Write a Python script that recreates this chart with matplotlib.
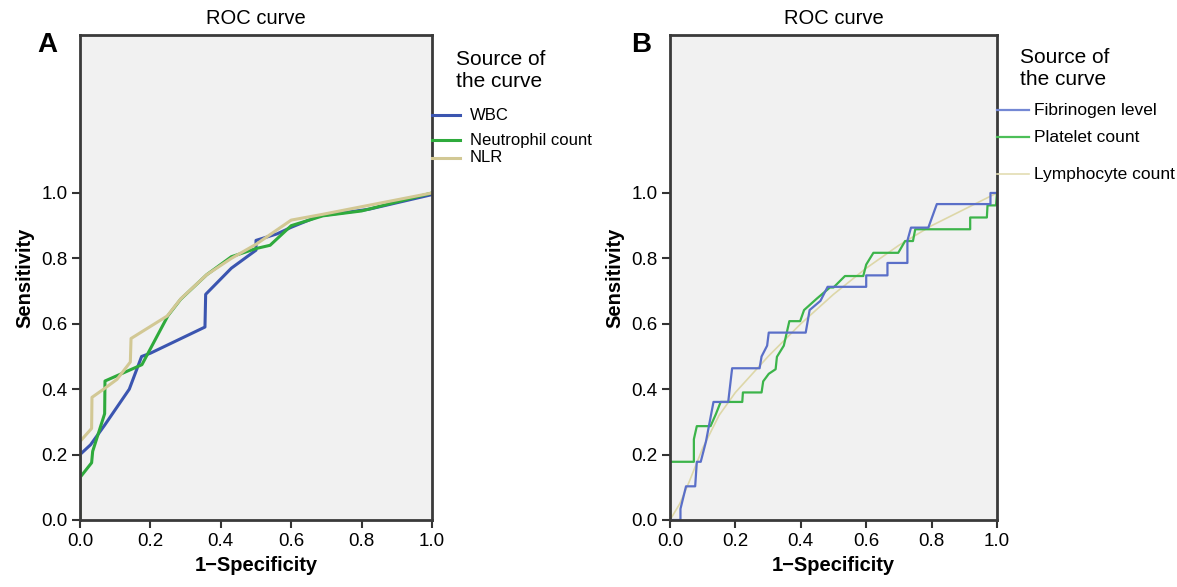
import matplotlib
matplotlib.use("Agg")
import matplotlib.pyplot as plt
from matplotlib.lines import Line2D

plt.rcParams['font.family'] = ['Liberation Sans', 'DejaVu Sans']

# Panel A data
wbc_x = [0, 0, 0.03, 0.07, 0.14, 0.175, 0.20, 0.355, 0.357, 0.43, 0.50, 0.50, 0.56, 0.60, 0.68, 0.82, 1.0]
wbc_y = [0, 0.20, 0.23, 0.29, 0.40, 0.50, 0.51, 0.59, 0.69, 0.77, 0.825, 0.855, 0.875, 0.895, 0.93, 0.95, 0.995]
neu_x = [0, 0, 0.033, 0.036, 0.07, 0.071, 0.176, 0.25, 0.286, 0.36, 0.43, 0.50, 0.54, 0.60, 0.69, 0.80, 1.0]
neu_y = [0, 0.13, 0.175, 0.21, 0.325, 0.425, 0.475, 0.625, 0.675, 0.75, 0.805, 0.83, 0.84, 0.90, 0.93, 0.945, 1.0]
nlr_x = [0, 0, 0.033, 0.034, 0.067, 0.105, 0.143, 0.145, 0.248, 0.286, 0.36, 0.43, 0.50, 0.60, 0.686, 1.0]
nlr_y = [0, 0.24, 0.28, 0.375, 0.40, 0.43, 0.483, 0.555, 0.624, 0.676, 0.75, 0.80, 0.843, 0.917, 0.934, 1.0]

# Panel B data
fib_x = [0, 0.032, 0.032, 0.049, 0.077, 0.082, 0.094, 0.11, 0.133, 0.178, 0.19, 0.274, 0.28, 0.297, 0.302,
         0.415, 0.427, 0.46, 0.482, 0.60, 0.60, 0.665, 0.665, 0.726, 0.726, 0.737, 0.79, 0.816, 0.98, 0.98, 1.0]
fib_y = [0, 0, 0.034, 0.103, 0.103, 0.178, 0.178, 0.24, 0.361, 0.361, 0.464, 0.464, 0.50, 0.533, 0.573,
         0.573, 0.642, 0.67, 0.713, 0.713, 0.748, 0.748, 0.786, 0.786, 0.854, 0.894, 0.894, 0.966, 0.966, 1.0, 1.0]
plt_x = [0, 0, 0.073, 0.073, 0.082, 0.124, 0.14, 0.155, 0.221, 0.223, 0.28, 0.285, 0.302, 0.323, 0.327, 0.348,
         0.365, 0.398, 0.41, 0.449, 0.489, 0.50, 0.535, 0.591, 0.60, 0.622, 0.698, 0.719, 0.743, 0.75,
         0.918, 0.918, 0.969, 0.971, 0.997, 1.0]
plt_y = [0, 0.178, 0.178, 0.247, 0.287, 0.287, 0.323, 0.361, 0.361, 0.39, 0.39, 0.424, 0.447, 0.461, 0.499, 0.533,
         0.608, 0.608, 0.642, 0.677, 0.711, 0.711, 0.746, 0.746, 0.781, 0.817, 0.817, 0.853, 0.853, 0.889,
         0.889, 0.925, 0.925, 0.962, 0.962, 1.0]
lym_x = [0, 0.03, 0.06, 0.10, 0.15, 0.20, 0.30, 0.40, 0.50, 0.60, 0.70, 0.80, 0.90, 1.0]
lym_y = [0, 0.05, 0.12, 0.22, 0.32, 0.39, 0.50, 0.60, 0.69, 0.77, 0.84, 0.90, 0.95, 1.0]

ticks = [0.0, 0.2, 0.4, 0.6, 0.8, 1.0]
tick_labels = ['0.0', '0.2', '0.4', '0.6', '0.8', '1.0']

W, H = 1177, 587
fig = plt.figure(figsize=(W / 100, H / 100), dpi=100)


def fx(px):
    return px / W


def fy(py):
    return 1 - py / H


def setup_axes(ax, letter, letter_x):
    ax.set_facecolor('#f1f1f1')
    ax.set_xlim(0, 1)
    ax.set_ylim(0, 1.483)
    ax.set_xticks(ticks)
    ax.set_xticklabels(tick_labels)
    ax.set_yticks(ticks)
    ax.set_yticklabels(tick_labels)
    ax.tick_params(direction='out', length=6, width=1.5, labelsize=13.5, pad=3, color='#333333')
    for s in ax.spines.values():
        s.set_linewidth(2)
        s.set_color('#3a3a3a')
    ax.set_title('ROC curve', fontsize=14.5, pad=8)
    ax.set_xlabel('1\u2212Specificity', fontsize=14.5, fontweight='bold', labelpad=5)
    ax.set_ylabel('Sensitivity', fontsize=14.5, fontweight='bold', labelpad=5)
    fig.text(fx(letter_x), fy(45), letter, fontsize=20, fontweight='bold', va='center', ha='center')


def legend(x0, x1, tx, tsize, title_y, items):
    fig.text(fx(tx - 14), fy(title_y), 'Source of\nthe curve', fontsize=15, va='top', ha='left',
             linespacing=1.2)
    for label, color, lw, y in items:
        fig.add_artist(Line2D([fx(x0), fx(x1)], [fy(y), fy(y)], color=color, lw=lw))
        fig.text(fx(tx), fy(y), label, fontsize=tsize, va='center', ha='left')


# Panel A
axA = fig.add_axes([fx(80), fy(520), (432 - 80) / W, (520 - 35) / H])
axA.plot(wbc_x, wbc_y, color='#3b55b0', lw=2.2)
axA.plot(neu_x, neu_y, color='#2eaa3c', lw=2.2)
axA.plot(nlr_x, nlr_y, color='#d2c894', lw=2.2)
setup_axes(axA, 'A', 47)
legend(432, 460, 470, 12, 50, [('WBC', '#3b55b0', 2.2, 115),
                               ('Neutrophil count', '#2eaa3c', 2.2, 140),
                               ('NLR', '#d2c894', 2.2, 158)])

# Panel B
axB = fig.add_axes([fx(670), fy(520), (997 - 670) / W, (520 - 35) / H])
axB.plot(lym_x, lym_y, color='#ddd7a8', lw=1.2)
axB.plot(plt_x, plt_y, color='#3cb44a', lw=1.6)
axB.plot(fib_x, fib_y, color='#5a6fc8', lw=1.6)
setup_axes(axB, 'B', 641)
legend(997, 1029, 1034, 12.5, 48, [('Fibrinogen level', '#7488d4', 1.6, 110),
                                   ('Platelet count', '#4cbf58', 1.6, 137),
                                   ('Lymphocyte count', '#e3ddb3', 1.2, 174)])

fig.savefig('out.png', dpi=100)
